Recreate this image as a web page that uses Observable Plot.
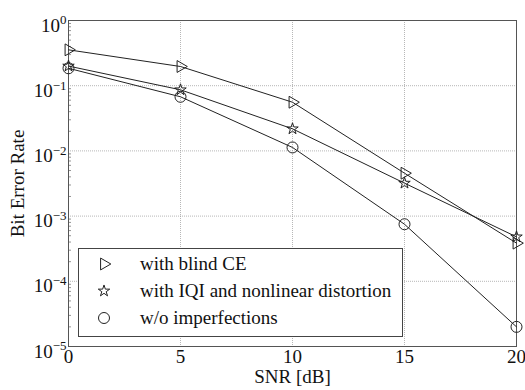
<!DOCTYPE html>
<html>
<head>
<meta charset="utf-8">
<script src="https://cdn.jsdelivr.net/npm/d3@7"></script>
<script src="https://cdn.jsdelivr.net/npm/@observablehq/plot@0.6"></script>
<style>
  html, body { margin: 0; padding: 0; background: #fff; }
  #wrap { position: relative; width: 525px; height: 390px; font-family: "Liberation Serif", serif; }
  #legend { position: absolute; left: 78px; top: 248px; width: 325px; height: 89px; border: 1px solid #444; background: #fff; box-sizing: border-box; }
  .row { position: absolute; left: 0; height: 24px; display: flex; align-items: center; font-size: 19px; color: #111; font-family: "Liberation Serif", serif; }
  .row svg { position: absolute; left: 15px; }
  .row span { position: absolute; left: 61px; white-space: nowrap; }
</style>
</head>
<body>
<div id="wrap"></div>
<script>
const snr = [0, 5, 10, 15, 20];
const blindCE = [0.355, 0.197, 0.0558, 0.00455, 0.000385];
const iqiNonlin = [0.2, 0.0865, 0.0218, 0.0032, 0.00048];
const noImperf = [0.185, 0.0676, 0.0113, 0.00075, 0.00002];
const seriesNames = ["with blind CE", "with IQI and nonlinear distortion", "w/o imperfections"];
const yTicks = [1e-5, 1e-4, 1e-3, 1e-2, 1e-1, 1];
const xTicks = [0, 5, 10, 15, 20];

const symbols = ["triangle", "star", "circle"];
const rotations = [90, 0, 0];
const sizes = [4.4, 3.6, 5.5];
const seriesValues = [blindCE, iqiNonlin, noImperf];
const data = [];
seriesValues.forEach((vals, s) => vals.forEach((v, i) => data.push({series: seriesNames[s], snr: snr[i], ber: v, sym: symbols[s], rot: rotations[s], r: sizes[s]})));

const minorTicks = [];
for (let e = -5; e < 0; e++) for (let k = 2; k <= 9; k++) minorTicks.push(k * Math.pow(10, e));

const chart = Plot.plot({
  width: 525,
  height: 390,
  marginLeft: 68,
  marginRight: 9,
  marginTop: 20,
  marginBottom: 44,
  style: {fontFamily: '"Liberation Serif", serif', fontSize: "19px", color: "#111", background: "#fff"},
  x: {domain: [0, 20]},
  y: {type: "log", domain: [1e-5, 1]},
  r: {type: "identity"},
  marks: [
    Plot.gridX(xTicks, {stroke: "#999", strokeOpacity: 0.7, strokeDasharray: "1,1"}),
    Plot.gridY(yTicks, {stroke: "#999", strokeOpacity: 0.7, strokeDasharray: "1,1"}),
    Plot.axisY(minorTicks, {tickSize: -3, text: null, label: null, stroke: "#666", strokeWidth: 0.7}),
    Plot.axisX(xTicks, {tickSize: 0, tickPadding: 3, fontSize: 19, label: "SNR [dB]", labelAnchor: "center", labelArrow: "none", labelOffset: 36}),
    Plot.axisY(yTicks, {tickSize: 0, tickPadding: 2, dy: 5, fontSize: 19, tickFormat: d => "10^" + Math.round(Math.log10(d)), label: "Bit Error Rate", labelAnchor: "center", labelArrow: "none", labelOffset: 58}),
    Plot.frame({stroke: "#555", strokeWidth: 1}),
    Plot.line(data, {x: "snr", y: "ber", z: "series", stroke: "#222", strokeWidth: 1}),
    Plot.dot(data, {x: "snr", y: "ber", symbol: "sym", rotate: "rot", r: "r", stroke: "#222", strokeWidth: 1, fill: "none"})
  ]
});

// superscript formatting for y tick labels
d3.select(chart).selectAll("text").each(function() {
  const t = this.textContent;
  const m = /^10\^(-?\d+)$/.exec(t);
  if (m) {
    const sel = d3.select(this);
    sel.text(null);
    sel.append("tspan").text("10");
    sel.append("tspan").attr("dy", "-0.55em").attr("font-size", "13px").text(m[1].replace("-", "\u2212"));
  }
});

const wrap = document.getElementById("wrap");
wrap.appendChild(chart);

// legend
const legend = document.createElement("div");
legend.id = "legend";
const glyph = (sym, r, rot) => '<svg width="20" height="20" viewBox="-10 -10 20 20"><path d="' + d3.symbol(sym, Math.PI * r * r)() + '" transform="rotate(' + rot + ')" fill="none" stroke="#222"/></svg>';
const glyphs = [glyph(d3.symbolTriangle, sizes[0], 90), glyph(d3.symbolStar, sizes[1], 0), glyph(d3.symbolCircle, sizes[2], 0)];
const rowTops = [3, 30, 57];
seriesNames.forEach((name, i) => {
  const row = document.createElement("div");
  row.className = "row";
  row.style.top = rowTops[i] + "px";
  row.innerHTML = glyphs[i] + "<span>" + name + "</span>";
  legend.appendChild(row);
});
wrap.appendChild(legend);
</script>
</body>
</html>
